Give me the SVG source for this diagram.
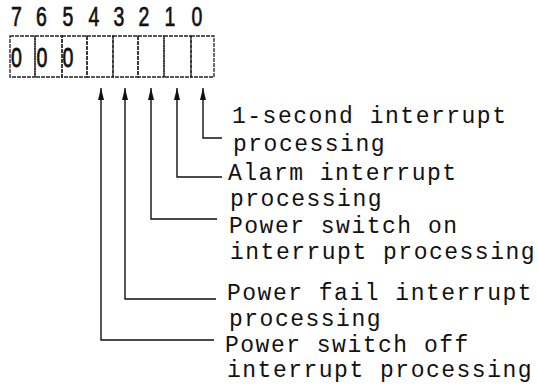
<svg xmlns="http://www.w3.org/2000/svg" width="538" height="388" viewBox="0 0 538 388">
<defs>
<style>
.bit{font-family:"Liberation Sans",Arial,sans-serif;font-size:27px;fill:#111;stroke:#111;stroke-width:0.7;text-anchor:middle}
.val{font-family:"Liberation Sans",Arial,sans-serif;font-size:28px;fill:#111;stroke:#111;stroke-width:0.8;text-anchor:middle}
.lbl{font-family:"Liberation Mono","Courier New",monospace;font-size:23px;letter-spacing:1.5px;fill:#111}
.cell{fill:none;stroke:#222;stroke-width:1.3;stroke-dasharray:4 1}
.conn{fill:none;stroke:#111;stroke-width:1.4}
</style>
<marker id="ah" viewBox="0 0 12 6" refX="12" refY="3" markerWidth="12" markerHeight="6" markerUnits="userSpaceOnUse" orient="auto-start-reverse">
<path d="M0,0 L12,3 L0,6 Z" fill="#111"/>
</marker>
</defs>
<g id="register">
<g id="bit-numbers">
<text class="bit" transform="translate(16.5,26) scale(0.72,1)">7</text>
<text class="bit" transform="translate(41.5,26) scale(0.72,1)">6</text>
<text class="bit" transform="translate(68,26) scale(0.72,1)">5</text>
<text class="bit" transform="translate(94,26) scale(0.72,1)">4</text>
<text class="bit" transform="translate(119,26) scale(0.72,1)">3</text>
<text class="bit" transform="translate(144,26) scale(0.72,1)">2</text>
<text class="bit" transform="translate(170,26) scale(0.72,1)">1</text>
<text class="bit" transform="translate(197,26) scale(0.72,1)">0</text>
</g>
<rect class="cell" x="10" y="36" width="25" height="41"/>
<rect class="cell" x="35" y="36" width="27" height="41"/>
<rect class="cell" x="62" y="36" width="25" height="41"/>
<rect class="cell" x="87" y="36" width="26" height="41"/>
<rect class="cell" x="113" y="36" width="25" height="41"/>
<rect class="cell" x="138" y="36" width="26" height="41"/>
<rect class="cell" x="164" y="36" width="27" height="41"/>
<rect class="cell" x="191" y="36" width="23" height="41"/>
<text class="val" transform="translate(16.5,67) scale(0.7,1)">0</text>
<text class="val" transform="translate(42,67) scale(0.7,1)">0</text>
<text class="val" transform="translate(68,67) scale(0.7,1)">0</text>
</g>
<g id="connectors">
<path class="conn" d="M203 88 V138 H222" marker-start="url(#ah)"/>
<path class="conn" d="M177 88 V177 H222" marker-start="url(#ah)"/>
<path class="conn" d="M151 88 V219 H217" marker-start="url(#ah)"/>
<path class="conn" d="M125 88 V299 H216" marker-start="url(#ah)"/>
<path class="conn" d="M101 88 V340 H214" marker-start="url(#ah)"/>
</g>
<g id="bit0-label">
<text class="lbl" x="232" y="123">1-second interrupt</text>
<text class="lbl" x="233" y="151">processing</text>
</g>
<g id="bit1-label">
<text class="lbl" x="228" y="180">Alarm interrupt</text>
<text class="lbl" x="230" y="206">processing</text>
</g>
<g id="bit2-label">
<text class="lbl" x="229" y="233">Power switch on</text>
<text class="lbl" x="230" y="259">interrupt processing</text>
</g>
<g id="bit3-label">
<text class="lbl" x="227" y="300">Power fail interrupt</text>
<text class="lbl" x="229" y="326">processing</text>
</g>
<g id="bit4-label">
<text class="lbl" x="225" y="352">Power switch off</text>
<text class="lbl" x="227" y="377">interrupt processing</text>
</g>
</svg>
